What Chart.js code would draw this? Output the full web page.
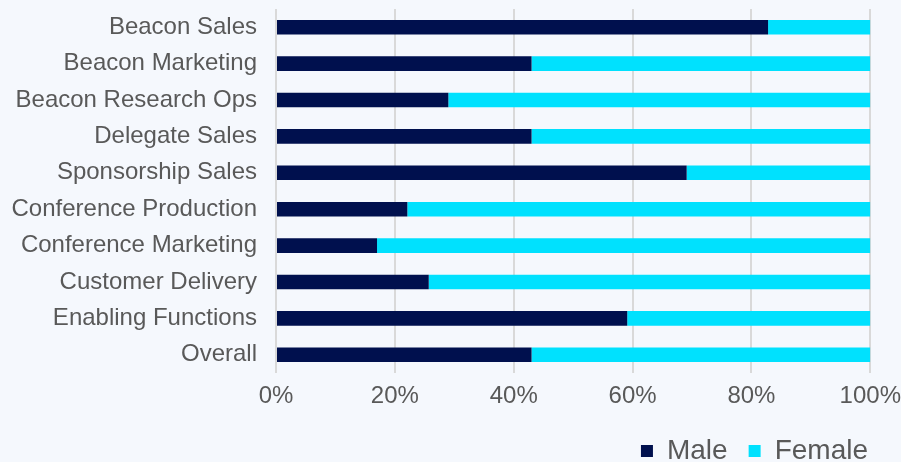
<!DOCTYPE html>
<html>
<head>
<meta charset="utf-8">
<script src="https://cdn.jsdelivr.net/npm/chart.js@4"></script>
<style>
  html, body { margin: 0; padding: 0; background: #f5f8fd; }
  #wrap { width: 901px; height: 462px; }
</style>
</head>
<body>
<div id="wrap"><canvas id="genderChart"></canvas></div>
<script>
const categories = [
  "Beacon Sales",
  "Beacon Marketing",
  "Beacon Research Ops",
  "Delegate Sales",
  "Sponsorship Sales",
  "Conference Production",
  "Conference Marketing",
  "Customer Delivery",
  "Enabling Functions",
  "Overall",
];
const male = [82.8, 43.0, 29.0, 43.0, 69.1, 22.1, 17.0, 25.7, 59.1, 43.0];
const female = [17.2, 57.0, 71.0, 57.0, 30.9, 77.9, 83.0, 74.3, 40.9, 57.0];
const xTicks = [0, 20, 40, 60, 80, 100];

Chart.defaults.font.family = "'Liberation Sans', Arial, sans-serif";
Chart.defaults.color = "#595959";

new Chart(document.getElementById("genderChart"), {
  type: "bar",
  data: {
    labels: categories,
    datasets: [
      {
        label: "Male",
        data: male,
        backgroundColor: "#00104e",
        borderWidth: 0,
        barPercentage: 0.4,
        categoryPercentage: 1,
      },
      {
        label: "Female",
        data: female,
        backgroundColor: "#00e1fe",
        borderWidth: 0,
        barPercentage: 0.4,
        categoryPercentage: 1,
      },
    ],
  },
  options: {
    indexAxis: "y",
    responsive: true,
    maintainAspectRatio: false,
    animation: false,
    // negative bottom pushes the legend row down to the very edge
    layout: { padding: { top: 0, right: 12, left: 0, bottom: -13 } },
    plugins: {
      tooltip: { enabled: false },
      legend: {
        position: "bottom",
        align: "end",
        labels: {
          boxWidth: 12,
          boxHeight: 12,
          padding: 21,
          color: "#595959",
          font: { size: 28 },
        },
      },
    },
    scales: {
      x: {
        stacked: true,
        min: 0,
        max: 100,
        border: { display: false },
        grid: {
          color: "#d9d9d9",
          lineWidth: 2,
          tickLength: 3,
          tickColor: "rgba(0,0,0,0)",
        },
        afterBuildTicks: (scale) => {
          scale.ticks = xTicks.map((v) => ({ value: v }));
        },
        ticks: {
          padding: 0,
          font: { size: 24, lineHeight: 40 / 24 },
          color: "#595959",
          callback: (v) => v + "%",
        },
      },
      y: {
        stacked: true,
        border: { display: false },
        grid: { display: false, tickLength: 19 },
        afterFit: (scale) => {
          scale.width = 276;
        },
        ticks: {
          padding: 0,
          font: { size: 24, lineHeight: 0.75 },
          color: "#595959",
        },
      },
    },
  },
});
</script>
</body>
</html>
